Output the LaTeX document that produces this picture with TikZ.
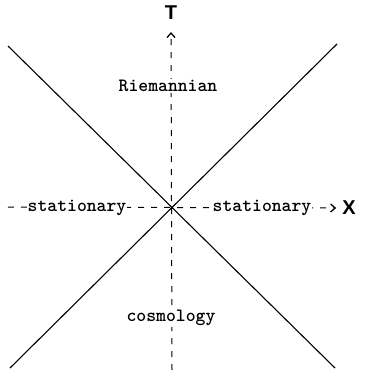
\documentclass[tikz,border=0pt]{standalone}
\usepackage{fontspec}
\setsansfont{Liberation Sans}
\usetikzlibrary{arrows.meta,positioning}
\tikzset {
  >={Straight Barb[length=4.5pt,width=8pt,line width=1.3pt]},
  every node/.style={font=\ttfamily\bfseries\fontsize{18.8}{18.8}\selectfont},
  axislabel/.style={font=\sffamily\bfseries\fontsize{20}{20}\selectfont,inner sep=0pt},
  regionlabel/.style={fill=white,inner sep=1pt},
  axisline/.style={line width=1pt,dash pattern=on 6pt off 7pt},
  lightcone/.style={line width=1.1pt},
}

\begin{document}
\begin{tikzpicture}[x=1pt,y=-1pt]
          \useasboundingbox (0,0) rectangle (366,372);
          \coordinate (o) at (172,207);
          \coordinate (tl) at (8,46);
          \coordinate (tr) at (337,44);
          \coordinate (bl) at (10,368);
          \coordinate (br) at (335,368);
          \coordinate (xl) at (8,207);
          \coordinate (tb) at (172,370);
          \node[axislabel] (T) at (171,13) {T};
          \node[axislabel] (X) at (349,208) {X};
          \draw[axisline,->] (tb) -- ([yshift=-12pt]T.south);
          \draw[axisline,->] (xl) -- ([xshift=-6pt]X.west);
          \draw[lightcone] (tl) -- (br);
          \draw[lightcone] (bl) -- (tr);
          \node[regionlabel] (riem) at (168,86) {Riemannian};
          \node[regionlabel] (statl) at (77,208) {stationary};
          \node[regionlabel] (statr) at (262,208) {stationary};
          \node[regionlabel] (cosmo) at (171,318) {cosmology};
        \end{tikzpicture}
\end{document}
